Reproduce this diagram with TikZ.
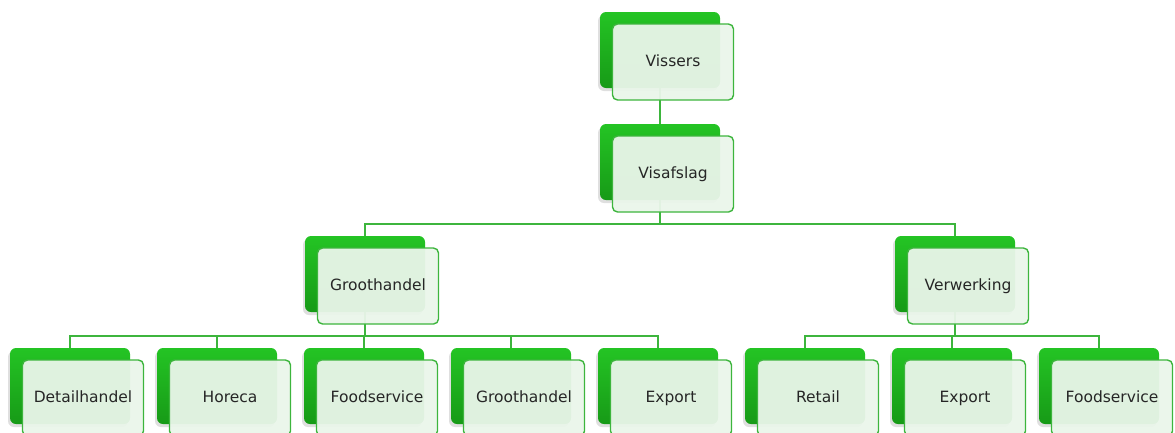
\documentclass[tikz,border=0pt]{standalone}
\usepackage{fontspec}
\setmainfont{DejaVu Sans}
\usetikzlibrary{shadows}
\definecolor{boxtop}{HTML}{24C424}
\definecolor{boxbot}{HTML}{179A17}
\definecolor{frontfill}{HTML}{EAF6EA}
\definecolor{edgegreen}{HTML}{3DB53D}
\pgfdeclarelayer{bg}
\pgfsetlayers{bg,main}
\tikzset{
  backbox/.style={rounded corners=6pt, minimum width=120pt, minimum height=76pt, inner sep=0pt,
    top color=boxtop, bottom color=boxbot, draw=none,
    drop shadow={shadow xshift=-2pt, shadow yshift=-3pt, opacity=0.25}},
  frontbox/.style={rounded corners=5pt, minimum width=121pt, minimum height=76pt, inner sep=0pt,
    fill=frontfill, fill opacity=0.95, text opacity=1, draw=edgegreen, line width=1.4pt,
    font=\fontsize{15.5}{17}\selectfont, text=black!85, text height=11pt, text depth=3pt},
  conn/.style={draw=edgegreen, line width=1.4pt}
}
\begin{document}
\begin{tikzpicture}[x=1pt,y=-1pt]
\useasboundingbox (0,0) rectangle (1175,432);
% level 0 and 1
\node[backbox] (b0) at (660,50) {};
\node[frontbox] (f0) at (673,62) {Vissers};
\node[backbox] (b1) at (660,162) {};
\node[frontbox] (f1) at (673,174) {Visafslag};
% level 2
\node[backbox] (b2a) at (365,274) {};
\node[frontbox] (f2a) at (378,286) {Groothandel};
\node[backbox] (b2b) at (955,274) {};
\node[frontbox] (f2b) at (968,286) {Verwerking};
% level 3
\foreach \i/\t in {0/Detailhandel,1/Horeca,2/Foodservice,3/Groothandel,4/Export,5/Retail,6/Export,7/Foodservice}{
  \node[backbox] (b3\i) at ({70+147*\i},386) {};
  \node[frontbox] (f3\i) at ({83+147*\i},398) {\t};
}
\begin{pgfonlayer}{bg}
\draw[conn] (b0.center) -- (b1.center);
\draw[conn] (b1.center) -- ++(0,62) -| (b2a.center);
\draw[conn] (b1.center) -- ++(0,62) -| (b2b.center);
\foreach \i in {0,...,4}{
  \draw[conn] (b2a.center) -- ++(0,62) -| (b3\i.center);
}
\foreach \i in {5,6,7}{
  \draw[conn] (b2b.center) -- ++(0,62) -| (b3\i.center);
}
\end{pgfonlayer}
\end{tikzpicture}
\end{document}
